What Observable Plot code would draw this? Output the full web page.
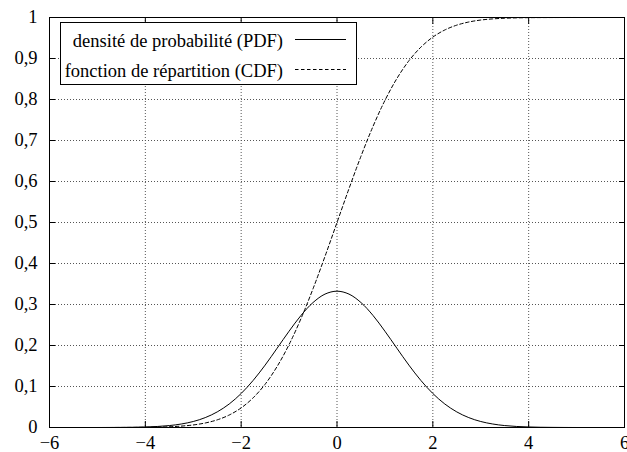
<!DOCTYPE html>
<html>
<head>
<meta charset="utf-8">
<script src="https://cdn.jsdelivr.net/npm/d3@7"></script>
<script src="https://cdn.jsdelivr.net/npm/@observablehq/plot@0.6"></script>
<style>
  html, body { margin: 0; padding: 0; background: white; }
  #wrap { position: relative; width: 627px; height: 452px; }
  #legend { position: absolute; left: 0; top: 0; }
  #wrap svg, #wrap svg text { font-family: "Liberation Serif", "Times New Roman", Times, serif !important; }
</style>
</head>
<body>
<div id="wrap"></div>
<script>
// x positions
const xs = [-5, -4.75, -4.5, -4.25, -4, -3.75, -3.5, -3.25, -3, -2.75, -2.5, -2.25, -2, -1.75, -1.5, -1.25, -1, -0.75, -0.5, -0.25,
  0, 0.25, 0.5, 0.75, 1, 1.25, 1.5, 1.75, 2, 2.25, 2.5, 2.75, 3, 3.25, 3.5, 3.75, 4, 4.25, 4.5, 4.75, 5];
// densité de probabilité (PDF)
const pdf = [0.0000, 0.0001, 0.0003, 0.0006, 0.0013, 0.0025, 0.0047, 0.0085, 0.0146, 0.0241, 0.0380, 0.0573, 0.0829, 0.1148, 0.1522, 0.1933, 0.2349, 0.2735, 0.3048, 0.3254,
  0.3325, 0.3254, 0.3048, 0.2735, 0.2349, 0.1933, 0.1522, 0.1148, 0.0829, 0.0573, 0.0380, 0.0241, 0.0146, 0.0085, 0.0047, 0.0025, 0.0013, 0.0006, 0.0003, 0.0001, 0.0000];
// fonction de répartition (CDF)
const cdf = [0.0000, 0.0000, 0.0001, 0.0002, 0.0004, 0.0009, 0.0018, 0.0034, 0.0062, 0.0110, 0.0186, 0.0304, 0.0478, 0.0724, 0.1056, 0.1488, 0.2023, 0.2660, 0.3385, 0.4175,
  0.5000, 0.5825, 0.6615, 0.7340, 0.7977, 0.8512, 0.8944, 0.9276, 0.9522, 0.9696, 0.9814, 0.9890, 0.9938, 0.9966, 0.9982, 0.9991, 0.9996, 0.9998, 0.9999, 1.0000, 1.0000];

const xTicks = [-6, -4, -2, 0, 2, 4, 6];
const yTicks = [0, 0.1, 0.2, 0.3, 0.4, 0.5, 0.6, 0.7, 0.8, 0.9, 1];
const seriesNames = ["densité de probabilité (PDF)", "fonction de répartition (CDF)"];

const pdfData = xs.map((x, i) => ({x, y: pdf[i]}));
const cdfData = xs.map((x, i) => ({x, y: cdf[i]}));

const fmtX = d => (d < 0 ? "\u2212" + Math.abs(d) : String(d));
const fmtY = d => String(+d.toFixed(1)).replace(".", ",");

const gridStyle = {stroke: "#555", strokeOpacity: 1, strokeDasharray: "1,2", strokeWidth: 1};
const serif = '"Liberation Serif", "Times New Roman", Times, serif';

const chart = Plot.plot({
  width: 627,
  height: 452,
  marginLeft: 49,
  marginRight: 3,
  marginTop: 17,
  marginBottom: 25,
  style: {fontFamily: serif, fontSize: "18.5px", background: "white", color: "black"},
  x: {domain: [-6, 6], label: null},
  y: {domain: [0, 1], label: null},
  marks: [
    Plot.gridX(xTicks, gridStyle),
    Plot.gridY(yTicks, gridStyle),
    Plot.axisX(xTicks, {anchor: "bottom", tickSize: 0, tickPadding: 8, tickFormat: fmtX, label: null}),
    Plot.axisY(yTicks, {anchor: "left", tickSize: 0, tickPadding: 12, tickFormat: fmtY, label: null}),
    Plot.axisX(xTicks, {anchor: "bottom", tickSize: -6, text: null, label: null}),
    Plot.axisX(xTicks, {anchor: "top", tickSize: -6, text: null, label: null}),
    Plot.axisY(yTicks, {anchor: "left", tickSize: -6, text: null, label: null}),
    Plot.axisY(yTicks, {anchor: "right", tickSize: -6, text: null, label: null}),
    Plot.line(pdfData, {x: "x", y: "y", stroke: "black", strokeWidth: 1, curve: "catmull-rom"}),
    Plot.line(cdfData, {x: "x", y: "y", stroke: "black", strokeWidth: 1, strokeDasharray: "3.5,2.5", curve: "catmull-rom"}),
    Plot.frame({stroke: "black", strokeWidth: 1})
  ]
});

const wrap = document.getElementById("wrap");
wrap.appendChild(chart);

// Legend box (inside the plot area, top-left)
const leg = d3.select(wrap).append("svg")
  .attr("id", "legend")
  .attr("width", 627).attr("height", 452)
  .style("font-family", serif)
  .style("font-size", "18.5px");
leg.append("rect").attr("x", 60.5).attr("y", 22.5).attr("width", 296).attr("height", 62)
  .attr("fill", "white").attr("stroke", "black").attr("stroke-width", 1);
const rows = [{y: 46.5, ly: 39.5, dash: null}, {y: 76.5, ly: 69.5, dash: "3.5,2.5"}];
rows.forEach((r, i) => {
  leg.append("text").attr("x", 283).attr("y", r.y).attr("text-anchor", "end").attr("fill", "black").text(seriesNames[i]);
  const l = leg.append("line").attr("x1", 295).attr("x2", 346).attr("y1", r.ly).attr("y2", r.ly)
    .attr("stroke", "black").attr("stroke-width", 1);
  if (r.dash) l.attr("stroke-dasharray", r.dash);
});
</script>
</body>
</html>
